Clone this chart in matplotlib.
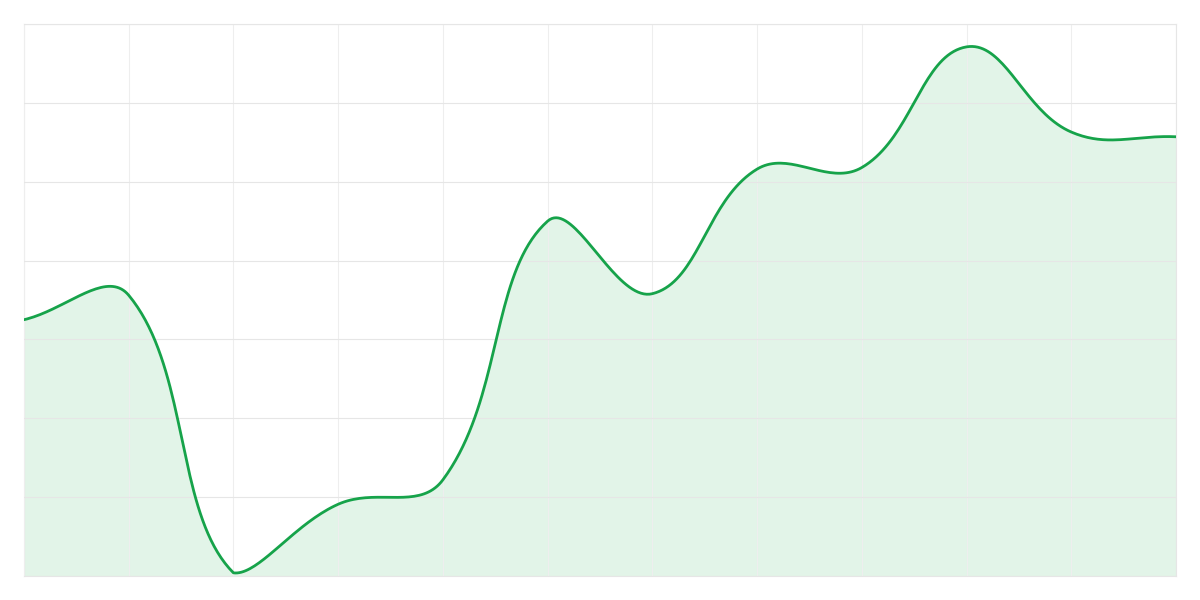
import numpy as np
import matplotlib.pyplot as plt

# values (axis 0..70, grid every 10)
x_idx = list(range(12))
values = [32.5, 35.6, 0.4, 9.1, 12.2, 45.0, 35.8, 51.6, 51.8, 67.1, 56.3, 55.7]

line_color = "#16a34a"
fill_color = "#e2f4e8"
hgrid_color = "#e6e6e6"
vgrid_color = "#eeeeee"

# pixel scale used for the spline tension (same as drawn axes)
PX_X = 1152 / 11
PX_Y = 552 / 70


def smooth_curve(xs, ys, tension=0.4, n=40):
    # Chart.js style bezier spline, distances in pixels, control points capped to the area
    px = np.array(xs, float) * PX_X
    py = np.array(ys, float) * PX_Y
    m = len(px)
    ymax = 70 * PX_Y
    xmax = px[-1]
    cps = []
    for i in range(m):
        p0 = (px[max(i - 1, 0)], py[max(i - 1, 0)])
        p1 = (px[i], py[i])
        p2 = (px[min(i + 1, m - 1)], py[min(i + 1, m - 1)])
        d01 = np.hypot(p1[0] - p0[0], p1[1] - p0[1])
        d12 = np.hypot(p2[0] - p1[0], p2[1] - p1[1])
        tot = d01 + d12
        fa = tension * d01 / tot if tot else 0
        fb = tension * d12 / tot if tot else 0
        prev = [p1[0] - fa * (p2[0] - p0[0]), p1[1] - fa * (p2[1] - p0[1])]
        nxt = [p1[0] + fb * (p2[0] - p0[0]), p1[1] + fb * (p2[1] - p0[1])]
        for c in (prev, nxt):
            c[0] = min(max(c[0], 0), xmax)
            c[1] = min(max(c[1], 0), ymax)
        cps.append((prev, nxt))
    out_x, out_y = [], []
    t = np.linspace(0, 1, n)
    for i in range(m - 1):
        a = np.array([px[i], py[i]])
        b = np.array(cps[i][1])
        c = np.array(cps[i + 1][0])
        d = np.array([px[i + 1], py[i + 1]])
        pts = ((1 - t) ** 3)[:, None] * a + (3 * (1 - t) ** 2 * t)[:, None] * b \
            + (3 * (1 - t) * t ** 2)[:, None] * c + (t ** 3)[:, None] * d
        out_x.extend(pts[:, 0])
        out_y.extend(pts[:, 1])
    return np.array(out_x) / PX_X, np.array(out_y) / PX_Y


sx, sy = smooth_curve(x_idx, values)

fig = plt.figure(figsize=(12, 6), dpi=100)
ax = fig.add_axes([24 / 1200, 24 / 600, 1152 / 1200, 552 / 600])

ax.fill_between(sx, sy, 0, color=fill_color, linewidth=0, zorder=1)
ax.plot(sx, sy, color=line_color, linewidth=2.0, solid_capstyle="round", zorder=3)

ax.set_xlim(0, 11)
ax.set_ylim(0, 70)
ax.set_xticks(x_idx)
ax.set_yticks(range(0, 71, 10))
ax.grid(True, axis="y", color=hgrid_color, linewidth=0.8, zorder=2)
ax.grid(True, axis="x", color=vgrid_color, linewidth=0.8, zorder=2)
ax.tick_params(length=0, labelbottom=False, labelleft=False)
for s in ax.spines.values():
    s.set_color(hgrid_color)
    s.set_linewidth(0.8)
ax.set_axisbelow(False)

fig.savefig("out.png", dpi=100)
